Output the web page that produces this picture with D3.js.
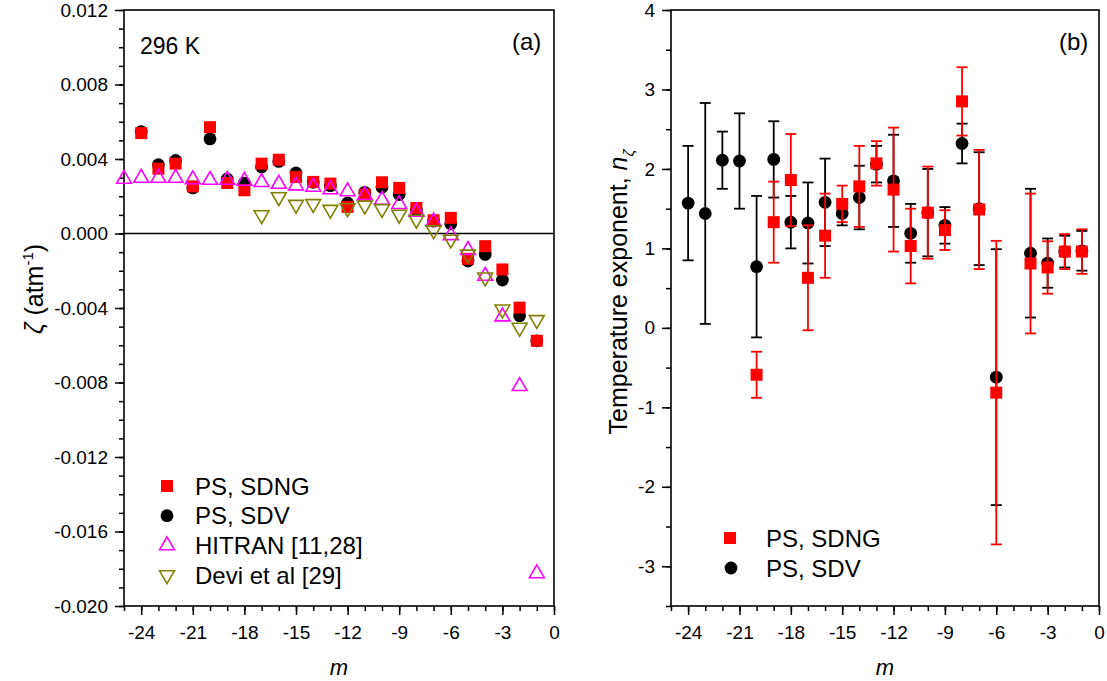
<!DOCTYPE html>
<html><head><meta charset="utf-8">
<script src="https://cdn.jsdelivr.net/npm/d3@7"></script>
<style>body{margin:0;background:#fff}svg{display:block}text{font-family:"Liberation Sans",Arial,sans-serif}</style>
</head><body>
<svg id="c" width="1107" height="681"></svg>
<script>
// ---------- data ----------
const mPS = [-24,-23,-22,-21,-20,-19,-18,-17,-16,-15,-14,-13,-12,-11,-10,-9,-8,-7,-6,-5,-4,-3,-2,-1];
const zetaSDNG = [0.00539,0.00348,0.00375,0.00253,0.00571,0.00271,0.00232,0.00375,0.00396,0.00303,0.00277,0.00268,0.00143,0.00209,0.00275,0.00245,0.00137,0.00071,0.00084,-0.00136,-0.00068,-0.00193,-0.00398,-0.00576];
const zetaSDV = [0.00547,0.00369,0.00392,0.00245,0.00508,0.00293,0.00271,0.00357,0.00387,0.00325,0.00275,0.00257,0.00164,0.00221,0.00248,0.00209,0.00125,0.00066,0.00052,-0.00148,-0.00112,-0.00250,-0.00442,-0.00576];
const mHITRAN = [-25,-24,-23,-22,-21,-20,-19,-18,-17,-16,-15,-14,-13,-12,-11,-10,-9,-8,-7,-6,-5,-4,-3,-2,-1];
const zetaHITRAN = [0.00293,0.00298,0.00298,0.00298,0.00290,0.00287,0.00287,0.00282,0.00275,0.00266,0.00257,0.00250,0.00236,0.00226,0.00205,0.00180,0.00157,0.00116,0.00063,-0.00010,-0.00089,-0.00228,-0.00446,-0.00820,-0.01825];
const mDevi = [-17,-16,-15,-14,-13,-12,-11,-10,-9,-8,-7,-6,-5,-4,-3,-2,-1];
const zetaDevi = [0.00099,0.00196,0.00155,0.00159,0.00128,0.00137,0.00151,0.00132,0.00102,0.00075,0.00018,-0.00032,-0.00112,-0.00235,-0.00407,-0.00505,-0.00464];

const mNSDV = [-24,-23,-22,-21,-20,-19,-18,-17,-16,-15,-14,-13,-12,-11,-10,-9,-8,-7,-6,-4,-3,-2,-1];
const nSDV = [1.57,1.44,2.11,2.10,0.77,2.12,1.33,1.32,1.58,1.44,1.64,2.06,1.85,1.19,1.45,1.29,2.32,1.50,-0.62,0.94,0.815,0.96,0.97];
const nSDVerr = [0.72,1.39,0.36,0.60,0.89,0.48,0.33,0.51,0.55,0.15,0.40,0.23,0.58,0.37,0.55,0.23,0.25,0.71,1.61,0.81,0.31,0.20,0.25];
const mNSDNG = [-20,-19,-18,-17,-16,-15,-14,-13,-12,-11,-10,-9,-8,-7,-6,-4,-3,-2,-1];
const nSDNG = [-0.59,1.33,1.86,0.63,1.16,1.56,1.78,2.07,1.74,1.03,1.45,1.23,2.85,1.49,-0.815,0.81,0.76,0.96,0.96];
const nSDNGerr = [0.29,0.51,0.58,0.66,0.53,0.23,0.51,0.28,0.78,0.47,0.58,0.25,0.43,0.75,1.91,0.88,0.33,0.22,0.28];

const xMajor = [-24,-21,-18,-15,-12,-9,-6,-3,0];
const xMinor = d3.range(-25,1,1);
const yTicksA = [0.012,0.008,0.004,0.000,-0.004,-0.008,-0.012,-0.016,-0.020];
const yMinorA = d3.range(-20,13,1).map(d=>d/1000);
const yTicksB = [4,3,2,1,0,-1,-2,-3];
const yMinorB = d3.range(-7,9,1).map(d=>d/2);

// ---------- layout ----------
const svg = d3.select("#c");
const plotTop = 10, plotBot = 606;
const RED = "#ff0000", BLK = "#000000", PINK = "#ff00ff", OLIVE = "#808000";

function makePanel(x0, x1, yDomain, yTicks, yMinor, fmt) {
  const x = d3.scaleLinear().domain([-25,0]).range([x0,x1]);
  const y = d3.scaleLinear().domain(yDomain).range([plotBot, plotTop]);
  const g = svg.append("g");
  const ax = g.append("g").attr("transform",`translate(0,${plotBot})`)
    .call(d3.axisBottom(x).tickValues(xMinor).tickSize(5).tickFormat(""));
  ax.select(".domain").remove();
  const ax2 = g.append("g").attr("transform",`translate(0,${plotBot})`)
    .call(d3.axisBottom(x).tickValues(xMajor).tickSize(9).tickPadding(11).tickFormat(d=>String(d)));
  ax2.select(".domain").remove();
  const ay = g.append("g").attr("transform",`translate(${x0},0)`)
    .call(d3.axisLeft(y).tickValues(yMinor).tickSize(5).tickFormat(""));
  ay.select(".domain").remove();
  const ay2 = g.append("g").attr("transform",`translate(${x0},0)`)
    .call(d3.axisLeft(y).tickValues(yTicks).tickSize(9).tickPadding(7).tickFormat(fmt));
  ay2.select(".domain").remove();
  g.selectAll(".tick line").attr("stroke","#000").attr("stroke-width",1.5);
  g.selectAll(".tick text").attr("font-size",19).attr("fill","#000")
    .style("font-family",'"Liberation Sans",Arial,sans-serif');
  g.append("rect").attr("x",x0).attr("y",plotTop).attr("width",x1-x0).attr("height",plotBot-plotTop)
    .attr("fill","none").attr("stroke","#000").attr("stroke-width",1.6);
  g.append("text").attr("x",(x0+x1)/2).attr("y",675).attr("text-anchor","middle")
    .attr("font-size",22).attr("font-style","italic").text("m");
  return {x,y,g};
}

const fmtA = d => d3.format(".3f")(d).replace("\u2212","-");
const fmtB = d => String(d);

// ---------- panel (a) ----------
const A = makePanel(124, 554, [-0.020, 0.012], yTicksA, yMinorA, fmtA);
const pa = svg.append("g");
pa.append("line").attr("x1",A.x(-25)).attr("x2",A.x(0)).attr("y1",A.y(0)).attr("y2",A.y(0))
  .attr("stroke","#000").attr("stroke-width",1.5);

const circ = d3.symbol().type(d3.symbolCircle).size(Math.PI*6.4*6.4);
const sq = d3.symbol().type(d3.symbolSquare).size(12*12);
const tri = d3.symbol().type(d3.symbolTriangle).size(95);

pa.selectAll(".sdv").data(mPS.map((m,i)=>[m,zetaSDV[i]])).join("path")
  .attr("d",circ).attr("transform",d=>`translate(${A.x(d[0])},${A.y(d[1])})`).attr("fill",BLK);
pa.selectAll(".sdng").data(mPS.map((m,i)=>[m,zetaSDNG[i]])).join("path")
  .attr("d",sq).attr("transform",d=>`translate(${A.x(d[0])},${A.y(d[1])})`).attr("fill",RED);
pa.selectAll(".hit").data(mHITRAN.map((m,i)=>[m,zetaHITRAN[i]])).join("path")
  .attr("d",tri).attr("transform",d=>`translate(${A.x(d[0])},${A.y(d[1])})`)
  .attr("fill","none").attr("stroke",PINK).attr("stroke-width",1.6);
pa.selectAll(".devi").data(mDevi.map((m,i)=>[m,zetaDevi[i]])).join("path")
  .attr("d",tri).attr("transform",d=>`translate(${A.x(d[0])},${A.y(d[1])}) rotate(180)`)
  .attr("fill","none").attr("stroke",OLIVE).attr("stroke-width",1.6);

pa.append("text").attr("x",140).attr("y",54).attr("font-size",23).text("296 K");
pa.append("text").attr("x",512).attr("y",50).attr("font-size",24).text("(a)");

const legA = [
  {sym:sq, fill:RED, stroke:"none", rot:0, label:"PS, SDNG"},
  {sym:circ, fill:BLK, stroke:"none", rot:0, label:"PS, SDV"},
  {sym:tri, fill:"none", stroke:PINK, rot:0, label:"HITRAN [11,28]"},
  {sym:tri, fill:"none", stroke:OLIVE, rot:180, label:"Devi et al [29]"}
];
legA.forEach((d,i)=>{
  const yy = 486 + i*29.7;
  pa.append("path").attr("d",d.sym).attr("transform",`translate(167,${yy}) rotate(${d.rot})`)
    .attr("fill",d.fill).attr("stroke",d.stroke).attr("stroke-width",1.6);
  pa.append("text").attr("x",195).attr("y",yy+8.5).attr("font-size",24).text(d.label);
});

const ta = pa.append("text").attr("transform","translate(43,289) rotate(-90)")
  .attr("text-anchor","middle").attr("font-size",25);
ta.append("tspan").attr("font-style","italic").text("\u03b6");
ta.append("tspan").text(" (atm");
ta.append("tspan").attr("font-size",15).attr("dy",-10).text("-1");
ta.append("tspan").attr("dy",10).text(")");

// ---------- panel (b) ----------
const B = makePanel(671, 1099, [-3.5, 4], yTicksB, yMinorB, fmtB);
const pb = svg.append("g");
function errSeries(ms, vs, es, color, sym) {
  const data = ms.map((m,i)=>({m, v:vs[i], e:es[i]}));
  const gg = pb.append("g");
  gg.selectAll("line.v").data(data).join("line")
    .attr("x1",d=>B.x(d.m)).attr("x2",d=>B.x(d.m))
    .attr("y1",d=>B.y(d.v-d.e)).attr("y2",d=>B.y(d.v+d.e))
    .attr("stroke",color).attr("stroke-width",1.8);
  [1,-1].forEach(s=>{
    gg.selectAll(null).data(data).join("line")
      .attr("x1",d=>B.x(d.m)-5.5).attr("x2",d=>B.x(d.m)+5.5)
      .attr("y1",d=>B.y(d.v+s*d.e)).attr("y2",d=>B.y(d.v+s*d.e))
      .attr("stroke",color).attr("stroke-width",1.8);
  });
  gg.selectAll("path").data(data).join("path").attr("d",sym)
    .attr("transform",d=>`translate(${B.x(d.m)},${B.y(d.v)})`).attr("fill",color);
}
errSeries(mNSDV, nSDV, nSDVerr, BLK, circ);
errSeries(mNSDNG, nSDNG, nSDNGerr, RED, sq);

pb.append("text").attr("x",1059).attr("y",50).attr("font-size",24).text("(b)");
pb.append("path").attr("d",sq).attr("transform","translate(730,538)").attr("fill",RED);
pb.append("text").attr("x",766).attr("y",546.5).attr("font-size",24).text("PS, SDNG");
pb.append("path").attr("d",circ).attr("transform","translate(731,568)").attr("fill",BLK);
pb.append("text").attr("x",766).attr("y",576.5).attr("font-size",24).text("PS, SDV");

const tb = pb.append("text").attr("transform","translate(627,292) rotate(-90)")
  .attr("text-anchor","middle").attr("font-size",25);
tb.append("tspan").text("Temperature exponent, ");
tb.append("tspan").attr("font-style","italic").text("n");
tb.append("tspan").attr("font-style","italic").attr("font-size",15).attr("dy",7).text("\u03b6");
</script>
</body></html>
